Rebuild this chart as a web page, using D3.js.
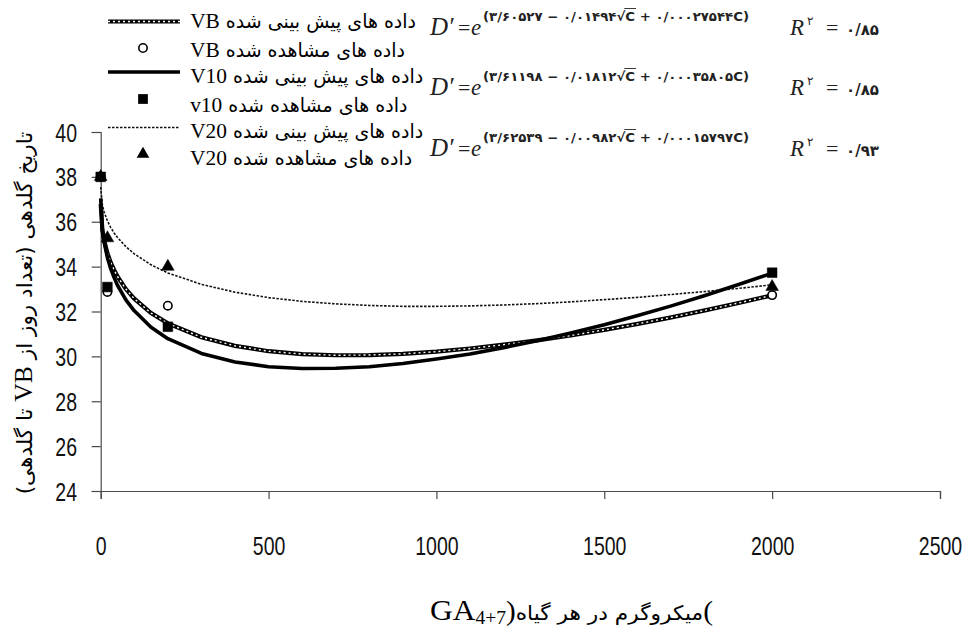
<!DOCTYPE html>
<html><head><meta charset="utf-8">
<script src="https://cdn.jsdelivr.net/npm/d3@7"></script>
<style>body{margin:0;background:#fff}</style>
</head><body>
<svg id="chart" width="962" height="630"></svg>
<script>
// ---------- data ----------
const doseC   = [0,5,10,20,30,40,50,75,100,150,200,300,400,500,600,700,800,900,1000,1100,1200,1300,1400,1500,1600,1700,1800,1900,2000];
const predVB  = [36.79,35.63,35.19,34.60,34.18,33.85,33.56,33.00,32.57,31.93,31.47,30.85,30.47,30.23,30.10,30.05,30.06,30.11,30.21,30.35,30.52,30.71,30.93,31.18,31.45,31.74,32.05,32.38,32.72];
const predV10 = [37.04,35.63,35.10,34.40,33.90,33.51,33.17,32.52,32.03,31.30,30.79,30.13,29.75,29.54,29.46,29.47,29.54,29.68,29.88,30.11,30.39,30.70,31.04,31.41,31.82,32.25,32.71,33.20,33.71];
const predV20 = [37.54,36.75,36.45,36.04,35.74,35.50,35.30,34.89,34.57,34.08,33.72,33.21,32.86,32.62,32.45,32.34,32.27,32.23,32.23,32.25,32.29,32.35,32.43,32.53,32.63,32.76,32.89,33.03,33.19];
const obsC    = [0,20,200,2000];
const obsVB   = [38,32.87,32.26,32.73];
const obsV10  = [38,33.09,31.32,33.73];
const obsV20  = [38,35.27,34.0,33.1];
const yTicks  = [24,26,28,30,32,34,36,38,40];
const xTicks  = [0,500,1000,1500,2000,2500];
const legendFa  = ["داده های پیش بینی شده ","داده های مشاهده شده ","داده های پیش بینی شده ","داده های مشاهده شده ","داده های پیش بینی شده ","داده های مشاهده شده "];
const legendTag = ["VB","VB","V10","v10","V20","V20"];
const eqExponent = ["(۳/۶۰۵۲۷ − ۰/۰۱۴۹۴√C + ۰/۰۰۰۲۷۵۴۴C)",
                    "(۳/۶۱۱۹۸ − ۰/۰۱۸۱۲√C + ۰/۰۰۰۳۵۸۰۵C)",
                    "(۳/۶۲۵۳۹ − ۰/۰۰۹۸۲√C + ۰/۰۰۰۱۵۷۹۷C)"];
const eqR2 = ["۰/۸۵","۰/۸۵","۰/۹۳"];
const yTitle = "تاریخ گلدهی (تعداد روز از VB تا گلدهی)";
const xTitleFa = "میکروگرم در هر گیاه";

// ---------- setup ----------
const svg = d3.select("#chart");
const x = d3.scaleLinear().domain([0,2500]).range([100.7,940]);
const y = d3.scaleLinear().domain([24,40]).range([491,132]);
const SERIF = "'Liberation Serif','Times New Roman',serif";
const SANS = "'Liberation Sans',Arial,sans-serif";
const FA = "'DejaVu Sans',sans-serif";
const axisColor = "#4a4a4a";

// axes
const gy = svg.append("g").attr("transform",`translate(${x(0)},0)`)
  .call(d3.axisLeft(y).tickValues(yTicks).tickSize(9).tickFormat(d3.format("d")));
const gx = svg.append("g").attr("transform",`translate(0,${y(24)})`)
  .call(d3.axisBottom(x).tickValues(xTicks).tickSize(8).tickFormat(d3.format("d")));
[gy,gx].forEach(g=>{
  g.selectAll("path,line").attr("stroke",axisColor).attr("stroke-width",1.2);
  g.selectAll("text").attr("font-family",SANS).attr("font-size",25).attr("fill","#111");
});
gy.selectAll("text").attr("x",0).attr("dy","0.36em")
  .attr("transform","translate(-23.7,0) scale(0.78,1)");
gx.selectAll("text").attr("y",0).attr("dy",0)
  .attr("transform","translate(0,64) scale(0.78,1)");

// ---------- lines ----------
const mk = vals => doseC.map((c,i)=>[c,vals[i]]);
const line = d3.line().x(d=>x(d[0])).y(d=>y(d[1]));
const plot = svg.append("g");
plot.append("path").datum(mk(predV20)).attr("d",line).attr("fill","none")
  .attr("stroke","#111").attr("stroke-width",1.6).attr("stroke-dasharray","2.5,1.5");
plot.append("path").datum(mk(predVB)).attr("d",line).attr("fill","none")
  .attr("stroke","#000").attr("stroke-width",4.2);
plot.append("path").datum(mk(predVB)).attr("d",line).attr("fill","none")
  .attr("stroke","#fff").attr("stroke-width",1.4).attr("stroke-dasharray","2,3");
plot.append("path").datum(mk(predV10)).attr("d",line).attr("fill","none")
  .attr("stroke","#000").attr("stroke-width",3.6).attr("stroke-linejoin","round");

// ---------- markers ----------
const sym = (type,size)=>d3.symbol().type(type).size(size)();
const drawObs = (vals,type,size,fill)=>{
  plot.selectAll(null).data(obsC.map((c,i)=>[c,vals[i]])).enter().append("path")
    .attr("d",sym(type,size)).attr("transform",d=>`translate(${x(d[0])},${y(d[1])})`)
    .attr("fill",fill).attr("stroke","#000").attr("stroke-width",fill==="#fff"?1.6:0.5);
};
drawObs(obsVB,d3.symbolCircle,55,"#fff");
drawObs(obsV20,d3.symbolTriangle,70,"#000");
drawObs(obsV10,d3.symbolSquare,95,"#000");

// ---------- legend ----------
const leg = svg.append("g");
const rowBase = [28,57,83,112,138,165];
const rowsG = legendFa.map((t,i)=>{
  const tx = leg.append("text").attr("direction","rtl").attr("font-size",19.5).attr("fill","#000");
  tx.append("tspan").attr("font-family",FA).text(t);
  tx.append("tspan").attr("font-family",SERIF).attr("font-size",22).text(legendTag[i]);
  return tx;
});
const bb0 = rowsG[0].node().getBBox();
const kLeg = 226/bb0.width;
rowsG.forEach((tx,i)=>{
  const bb = tx.node().getBBox();
  tx.attr("transform",`translate(${190 - bb.x*kLeg},${rowBase[i]}) scale(${kLeg},1)`);
});
const ls = (yy)=>d3.line()([[108,yy],[180,yy]]);
leg.append("path").attr("d",ls(21.5)).attr("stroke","#000").attr("stroke-width",4.2);
leg.append("path").attr("d",ls(21.5)).attr("stroke","#fff").attr("stroke-width",1.4).attr("stroke-dasharray","2,3");
leg.append("path").attr("d",sym(d3.symbolCircle,55)).attr("transform","translate(143,48)").attr("fill","#fff").attr("stroke","#000").attr("stroke-width",1.6);
leg.append("path").attr("d",ls(72)).attr("stroke","#000").attr("stroke-width",3.6);
leg.append("path").attr("d",sym(d3.symbolSquare,95)).attr("transform","translate(143,99)").attr("fill","#000");
leg.append("path").attr("d",ls(127.5)).attr("stroke","#111").attr("stroke-width",1.6).attr("stroke-dasharray","2.5,1.5");
leg.append("path").attr("d",sym(d3.symbolTriangle,70)).attr("transform","translate(143,154)").attr("fill","#000");

// ---------- equations ----------
const eqBase = [35,95,156];
eqExponent.forEach((ex,i)=>{
  const b = eqBase[i];
  const g = svg.append("g").attr("fill","#222");
  g.append("text").attr("x",430).attr("y",b).attr("font-family",SERIF).attr("font-style","italic").attr("font-size",25).text("D′");
  g.append("text").attr("x",458).attr("y",b).attr("font-family",SERIF).attr("font-size",22).text("=");
  g.append("text").attr("x",471).attr("y",b).attr("font-family",SERIF).attr("font-style","italic").attr("font-size",23).text("e");
  const et = g.append("text").attr("x",483).attr("y",b-14).attr("font-family",FA).attr("font-size",12.5)
    .attr("font-weight","bold")
    .attr("direction","ltr").attr("textLength",266).attr("lengthAdjust","spacingAndGlyphs").text(ex);
  const idx = ex.indexOf("√");
  try{
    const e1 = et.node().getExtentOfChar(idx+1);
    g.append("line").attr("x1",e1.x-1).attr("x2",e1.x+e1.width+1).attr("y1",e1.y-0.5).attr("y2",e1.y-0.5)
      .attr("stroke","#222").attr("stroke-width",0.9);
  }catch(e){}
  g.append("text").attr("x",790).attr("y",b).attr("font-family",SERIF).attr("font-style","italic").attr("font-size",23).text("R");
  g.append("text").attr("x",807).attr("y",b-10).attr("font-family",FA).attr("font-size",12).text("۲");
  g.append("text").attr("x",826).attr("y",b).attr("font-family",SERIF).attr("font-size",22).text("=");
  g.append("text").attr("x",846).attr("y",b).attr("font-family",FA).attr("font-size",15).attr("font-weight","bold").text(eqR2[i]);
});

// ---------- axis titles ----------
const yt = svg.append("text").attr("direction","rtl").attr("text-anchor","middle")
  .attr("font-family",FA).attr("font-size",21).attr("fill","#000");
const ytParts = yTitle.split("VB");
yt.append("tspan").text(ytParts[0]);
yt.append("tspan").attr("font-family",SERIF).attr("font-size",25).text("VB");
yt.append("tspan").text(ytParts[1]);
const ytw = yt.node().getBBox().width;
yt.attr("transform",`translate(32,313) rotate(-90) scale(${363/ytw},1)`);

// x title as one text run (LTR paragraph)
const xt = svg.append("text").attr("direction","ltr").attr("fill","#000")
  .attr("font-family",SERIF).attr("font-size",29);
xt.append("tspan").text("GA");
xt.append("tspan").attr("font-size",18).attr("dy",4).text("4+7");
xt.append("tspan").attr("dy",-4).attr("font-size",27).text(")");
xt.append("tspan").attr("font-family",FA).attr("font-size",20).text(xTitleFa);
xt.append("tspan").attr("font-size",27).text("(");
const xbb = xt.node().getBBox();
const kx = 283/xbb.width;
xt.attr("transform",`translate(${430 - xbb.x*kx},620) scale(${kx},1)`);
</script>
</body></html>
